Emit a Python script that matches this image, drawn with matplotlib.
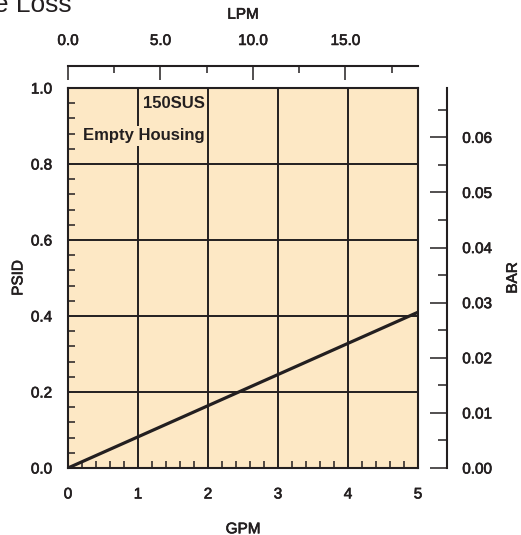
import matplotlib
matplotlib.use("Agg")
import matplotlib.pyplot as plt
import matplotlib.patheffects as pe
from matplotlib.ticker import MultipleLocator, FixedLocator

# Data
gpm = [0.0, 5.0]
psid = [0.0, 0.41]
x_ticks = [0, 1, 2, 3, 4, 5]
y_ticks = [0.0, 0.2, 0.4, 0.6, 0.8, 1.0]
lpm_ticks = [0.0, 5.0, 10.0, 15.0]
bar_ticks = [0.00, 0.01, 0.02, 0.03, 0.04, 0.05, 0.06]
label_top = "150SUS"
label_bottom = "Empty Housing"
title = "Pressure Loss"

GPM2LPM = 3.78541
PSI2BAR = 0.0689476

plt.rcParams['font.family'] = ['Liberation Sans', 'DejaVu Sans']
ink = '#231F20'
peach = '#FDE8C5'
fs = 11
medium = [pe.withStroke(linewidth=0.45, foreground=ink)]

W, H = 521, 535
fig = plt.figure(figsize=(W / 100, H / 100), dpi=100)
x0, x1, y0, y1 = 68, 418, 88, 468
ax = fig.add_axes([x0 / W, (H - y1) / H, (x1 - x0) / W, (y1 - y0) / H])
ax.set_facecolor(peach)
ax.plot(gpm, psid, color=ink, lw=2.3, solid_capstyle='butt', zorder=4)
ax.set_xlim(0, 5)
ax.set_ylim(0, 1.0)
ax.set_xticks(x_ticks)
ax.set_yticks(y_ticks)
ax.set_xticklabels([str(v) for v in x_ticks])
ax.set_yticklabels([f"{v:.1f}" for v in y_ticks])
ax.xaxis.set_minor_locator(MultipleLocator(0.2))
ax.yaxis.set_minor_locator(MultipleLocator(0.04))
ax.grid(True, which='major', color=ink, lw=1.4, zorder=1)
ax.set_axisbelow(True)
ax.tick_params(which='major', length=0, labelsize=fs, colors=ink, pad=11.5)
ax.tick_params(axis='x', which='major', pad=14)
ax.tick_params(which='minor', direction='in', length=5, width=1.1, color=ink)
for s in ax.spines.values():
    s.set_color(ink)
    s.set_linewidth(1.5)
ax.set_xlabel("GPM", fontsize=fs, color=ink, labelpad=15)
ax.set_ylabel("PSID", fontsize=fs, color=ink, labelpad=4)

# Top LPM axis
top = ax.secondary_xaxis(1 + 22 / 380, functions=(lambda g: g * GPM2LPM, lambda l: l / GPM2LPM))
top.xaxis.set_major_locator(FixedLocator(lpm_ticks))
top.xaxis.set_minor_locator(MultipleLocator(2.5))
top.set_xticklabels([f"{v:.1f}" for v in lpm_ticks])
top.tick_params(which='major', direction='in', length=10, width=1.1, colors=ink, labelsize=fs, pad=13)
top.tick_params(which='minor', direction='in', length=5, width=1.1, color=ink)
top.spines['top'].set_color(ink)
top.spines['top'].set_linewidth(1.5)
top.set_xlabel("LPM", fontsize=fs, color=ink, labelpad=11)

# Right BAR axis
right = ax.secondary_yaxis(1 + 29 / 350, functions=(lambda p: p * PSI2BAR, lambda b: b / PSI2BAR))
right.yaxis.set_major_locator(FixedLocator(bar_ticks))
right.yaxis.set_minor_locator(MultipleLocator(0.005))
right.set_yticklabels([f"{v:.2f}" for v in bar_ticks])
right.tick_params(which='major', direction='in', length=12, width=1.1, colors=ink, labelsize=fs, pad=11)
right.tick_params(which='minor', direction='in', length=6.5, width=1.1, color=ink)
right.spines['right'].set_color(ink)
right.spines['right'].set_linewidth(1.5)
right.set_ylabel("BAR", fontsize=fs, color=ink, labelpad=10)

for a in (ax.xaxis, ax.yaxis, top.xaxis, right.yaxis):
    for t in a.get_ticklabels():
        t.set_path_effects(medium)
    a.label.set_path_effects(medium)

# Annotations
ax.text(1.957, 0.958, label_top, ha='right', va='center', fontsize=12,
        fontweight='bold', color=ink, zorder=5)
ax.text(1.957, 0.874, label_bottom, ha='right', va='center', fontsize=12,
        fontweight='bold', color=ink, zorder=5,
        bbox=dict(boxstyle='square,pad=0.15', fc=peach, ec='none'))

fig.text(72 / W, 1 - 12 / H, title, ha='right', va='baseline', fontsize=19, color=ink)

fig.savefig("out.png", dpi=100)
